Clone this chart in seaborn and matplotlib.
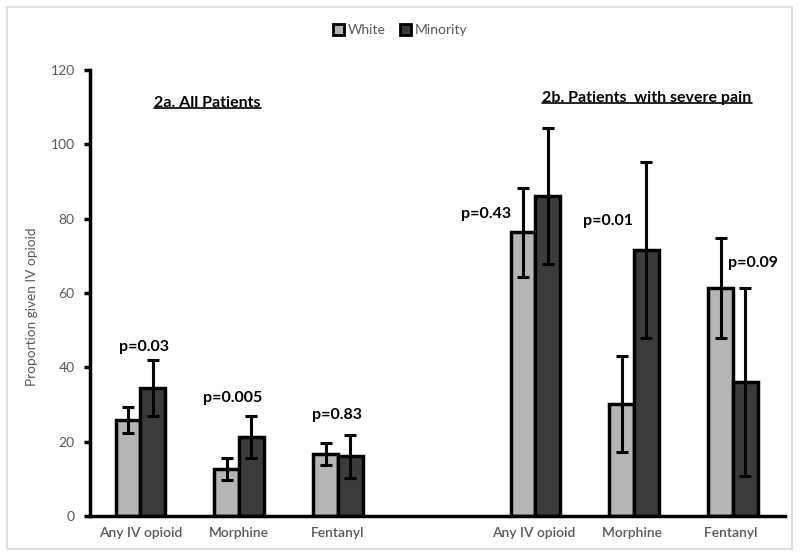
import numpy as np
import pandas as pd
import matplotlib
matplotlib.use("Agg")
import matplotlib.pyplot as plt
import seaborn as sns
from matplotlib.patches import Rectangle
from matplotlib.lines import Line2D

# ---------------------------------------------------------------------------
# Data
# ---------------------------------------------------------------------------
categories = ["Any IV opioid", "Morphine", "Fentanyl",
              "Any IV opioid ", "Morphine ", "Fentanyl "]
order = categories[:3] + [""] + categories[3:]
groups = ["White", "Minority"]

white_vals = [25.8, 12.6, 16.7, 76.3, 30.1, 61.4]
white_err = [3.5, 2.9, 3.0, 12.0, 12.8, 13.4]
minority_vals = [34.4, 21.3, 16.0, 86.1, 71.6, 36.0]
minority_err = [7.6, 5.6, 5.9, 18.3, 23.7, 25.2]

p_labels = ["p=0.03", "p=0.005", "p=0.83", "p=0.43", "p=0.01", "p=0.09"]
panel_titles = ["2a. All Patients", "2b. Patients  with severe pain"]

# ---------------------------------------------------------------------------
# Layout / style
# ---------------------------------------------------------------------------
colors = {"White": "#b5b5b5", "Minority": "#3b3b3b"}
grey_text = "#595959"
p_pos = [(0.04, 45.5), (0.93, 31.8), (1.99, 27.2),
         (3.50, 81.2), (4.74, 79.4), (6.20, 68.0)]
title_pos = [(0.68, 111.1), (5.13, 112.4)]

sns.set_theme(style="white")
plt.rcParams["font.family"] = ["Lato", "DejaVu Sans"]

df = pd.DataFrame({
    "category": categories * 2,
    "group": ["White"] * 6 + ["Minority"] * 6,
    "value": white_vals + minority_vals,
    "err": white_err + minority_err,
})

fig = plt.figure(figsize=(8, 5.59), dpi=100)
ax = fig.add_axes([0.1125, 0.077, 0.869, 0.798])

sns.barplot(
    data=df, x="category", y="value", hue="group",
    order=order, hue_order=groups, palette=colors,
    width=0.5, gap=0, errorbar=None, edgecolor="black",
    linewidth=2.5, legend=False, ax=ax,
)

# custom error bars at each bar centre
for container, grp in zip(ax.containers, groups):
    sub = df[df["group"] == grp].set_index("category")
    for bar in container:
        if np.isnan(bar.get_height()):
            continue
        xc = bar.get_x() + bar.get_width() / 2
        cat = order[int(round(xc))]
        ax.errorbar(xc, sub.loc[cat, "value"], yerr=sub.loc[cat, "err"],
                    fmt="none", ecolor="black", elinewidth=2.2,
                    capsize=4, capthick=2.2, zorder=5)

ax.set_ylim(0, 120)
ax.set_xlim(-0.51, 6.53)
ax.set_yticks(np.arange(0, 121, 20))
ax.set_xlabel("")
ax.set_ylabel("Proportion given IV opioid", color=grey_text, fontsize=9.8)
ax.yaxis.set_label_coords(-0.075, 0.47)
ax.tick_params(axis="y", direction="out", length=4, width=2.5, color="black",
               labelcolor=grey_text, labelsize=10, left=True, pad=7)
ax.tick_params(axis="x", length=0, labelcolor=grey_text, labelsize=10, pad=8)
for lab in ax.get_xticklabels():
    lab.set_fontweight("semibold")

sns.despine(ax=ax)
for side in ["left", "bottom"]:
    ax.spines[side].set_linewidth(2.5)
    ax.spines[side].set_color("black")

for label, (x, y) in zip(p_labels, p_pos):
    ax.text(x, y, label, ha="center", va="center", fontsize=11.5,
            fontweight="bold", color="black")

# underlined panel titles (limits are final now)
fig.canvas.draw()
renderer = fig.canvas.get_renderer()
for label, (x, y) in zip(panel_titles, title_pos):
    t = ax.text(x, y, label, ha="center", va="center", fontsize=11.5,
                fontweight="bold", color="black")
    bb = t.get_window_extent(renderer).transformed(fig.transFigure.inverted())
    fig.add_artist(Line2D([bb.x0, bb.x1], [bb.y0 + 0.003, bb.y0 + 0.003],
                          color="black", lw=1.2, transform=fig.transFigure))

# legend at the top
handles = [Rectangle((0, 0), 1, 1, facecolor=colors[g], edgecolor="black",
                     linewidth=2) for g in groups]
fig.legend(handles, groups, loc="center", bbox_to_anchor=(0.5, 0.946),
           ncol=2, frameon=False, fontsize=10, labelcolor=grey_text,
           handlelength=0.8, handleheight=0.8, handletextpad=0.3,
           columnspacing=1.0)

# light frame around the chart area
fig.add_artist(Rectangle((0.009, 0.018), 0.981, 0.97, fill=False,
                         edgecolor="#d9d9d9", lw=1.2,
                         transform=fig.transFigure))

fig.savefig("out.png", dpi=100)
